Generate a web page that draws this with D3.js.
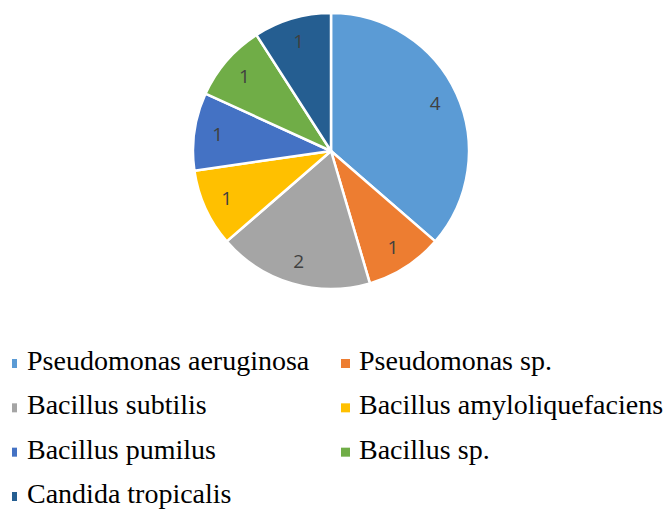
<!DOCTYPE html>
<html>
<head>
<meta charset="utf-8">
<script src="https://cdn.jsdelivr.net/npm/d3@7"></script>
<style>
  html, body { margin: 0; padding: 0; background: #fff; }
  .legend text { font-family: "Liberation Serif", "Times New Roman", serif; font-size: 28px; fill: #000; }
  .slice-label { font-family: "Open Sans", sans-serif; font-size: 19px; fill: #404040; }
</style>
</head>
<body>
<div class="chart"></div>
<script>
var categories = ['Pseudomonas aeruginosa', 'Pseudomonas sp.', 'Bacillus subtilis',
                  'Bacillus amyloliquefaciens', 'Bacillus pumilus', 'Bacillus sp.', 'Candida tropicalis'];
var counts = [4, 1, 2, 1, 1, 1, 1];
var colors = ['#5B9BD5', '#ED7D31', '#A5A5A5', '#FFC000', '#4472C4', '#70AD47', '#255E91'];

function init() {
  var width = 668,
      height = 509,
      cx = 331,
      cy = 151,
      radius = 138;

  var data = categories.map(function(c, i) { return { name: c, value: counts[i] }; });

  var svg = d3.select('.chart')
    .append('svg')
      .attr('width', width)
      .attr('height', height);

  var color = d3.scaleOrdinal().domain(categories).range(colors);

  var pie = d3.pie()
      .sort(null)
      .value(function(d) { return d.value; });

  var arc = d3.arc().innerRadius(0).outerRadius(radius);
  var labelArc = d3.arc().innerRadius(radius * 0.83).outerRadius(radius * 0.83);

  var g = svg.append('g')
      .attr('transform', 'translate(' + cx + ',' + cy + ')');

  var arcs = pie(data);

  g.selectAll('path')
      .data(arcs)
    .enter().append('path')
      .attr('d', arc)
      .attr('fill', function(d) { return color(d.data.name); })
      .attr('stroke', '#fff')
      .attr('stroke-width', 2.5)
      .attr('stroke-linejoin', 'round');

  g.selectAll('text')
      .data(arcs)
    .enter().append('text')
      .attr('class', 'slice-label')
      .attr('transform', function(d) { return 'translate(' + labelArc.centroid(d) + ')'; })
      .attr('text-anchor', 'middle')
      .attr('dy', '0.35em')
      .text(function(d) { return d.data.value; });

  // legend: two columns, rows top to bottom
  var colX = d3.scaleOrdinal().domain([0, 1]).range([12, 341]);
  var rowY = d3.scaleLinear().domain([0, 3]).range([370, 503]);

  var legend = svg.append('g')
      .attr('class', 'legend');

  var items = legend.selectAll('g')
      .data(data)
    .enter().append('g')
      .attr('transform', function(d, i) {
        return 'translate(' + colX(i % 2) + ',' + rowY(Math.floor(i / 2)) + ')';
      });

  items.append('rect')
      .attr('y', -11)
      .attr('width', function(d, i) { return i % 2 ? 9 : 5; })
      .attr('height', 9)
      .attr('fill', function(d) { return color(d.name); });

  items.append('text')
      .attr('x', function(d, i) { return i % 2 ? 18 : 15; })
      .text(function(d) { return d.name; });
}

d3.select(window).on('load', init);
</script>
</body>
</html>
